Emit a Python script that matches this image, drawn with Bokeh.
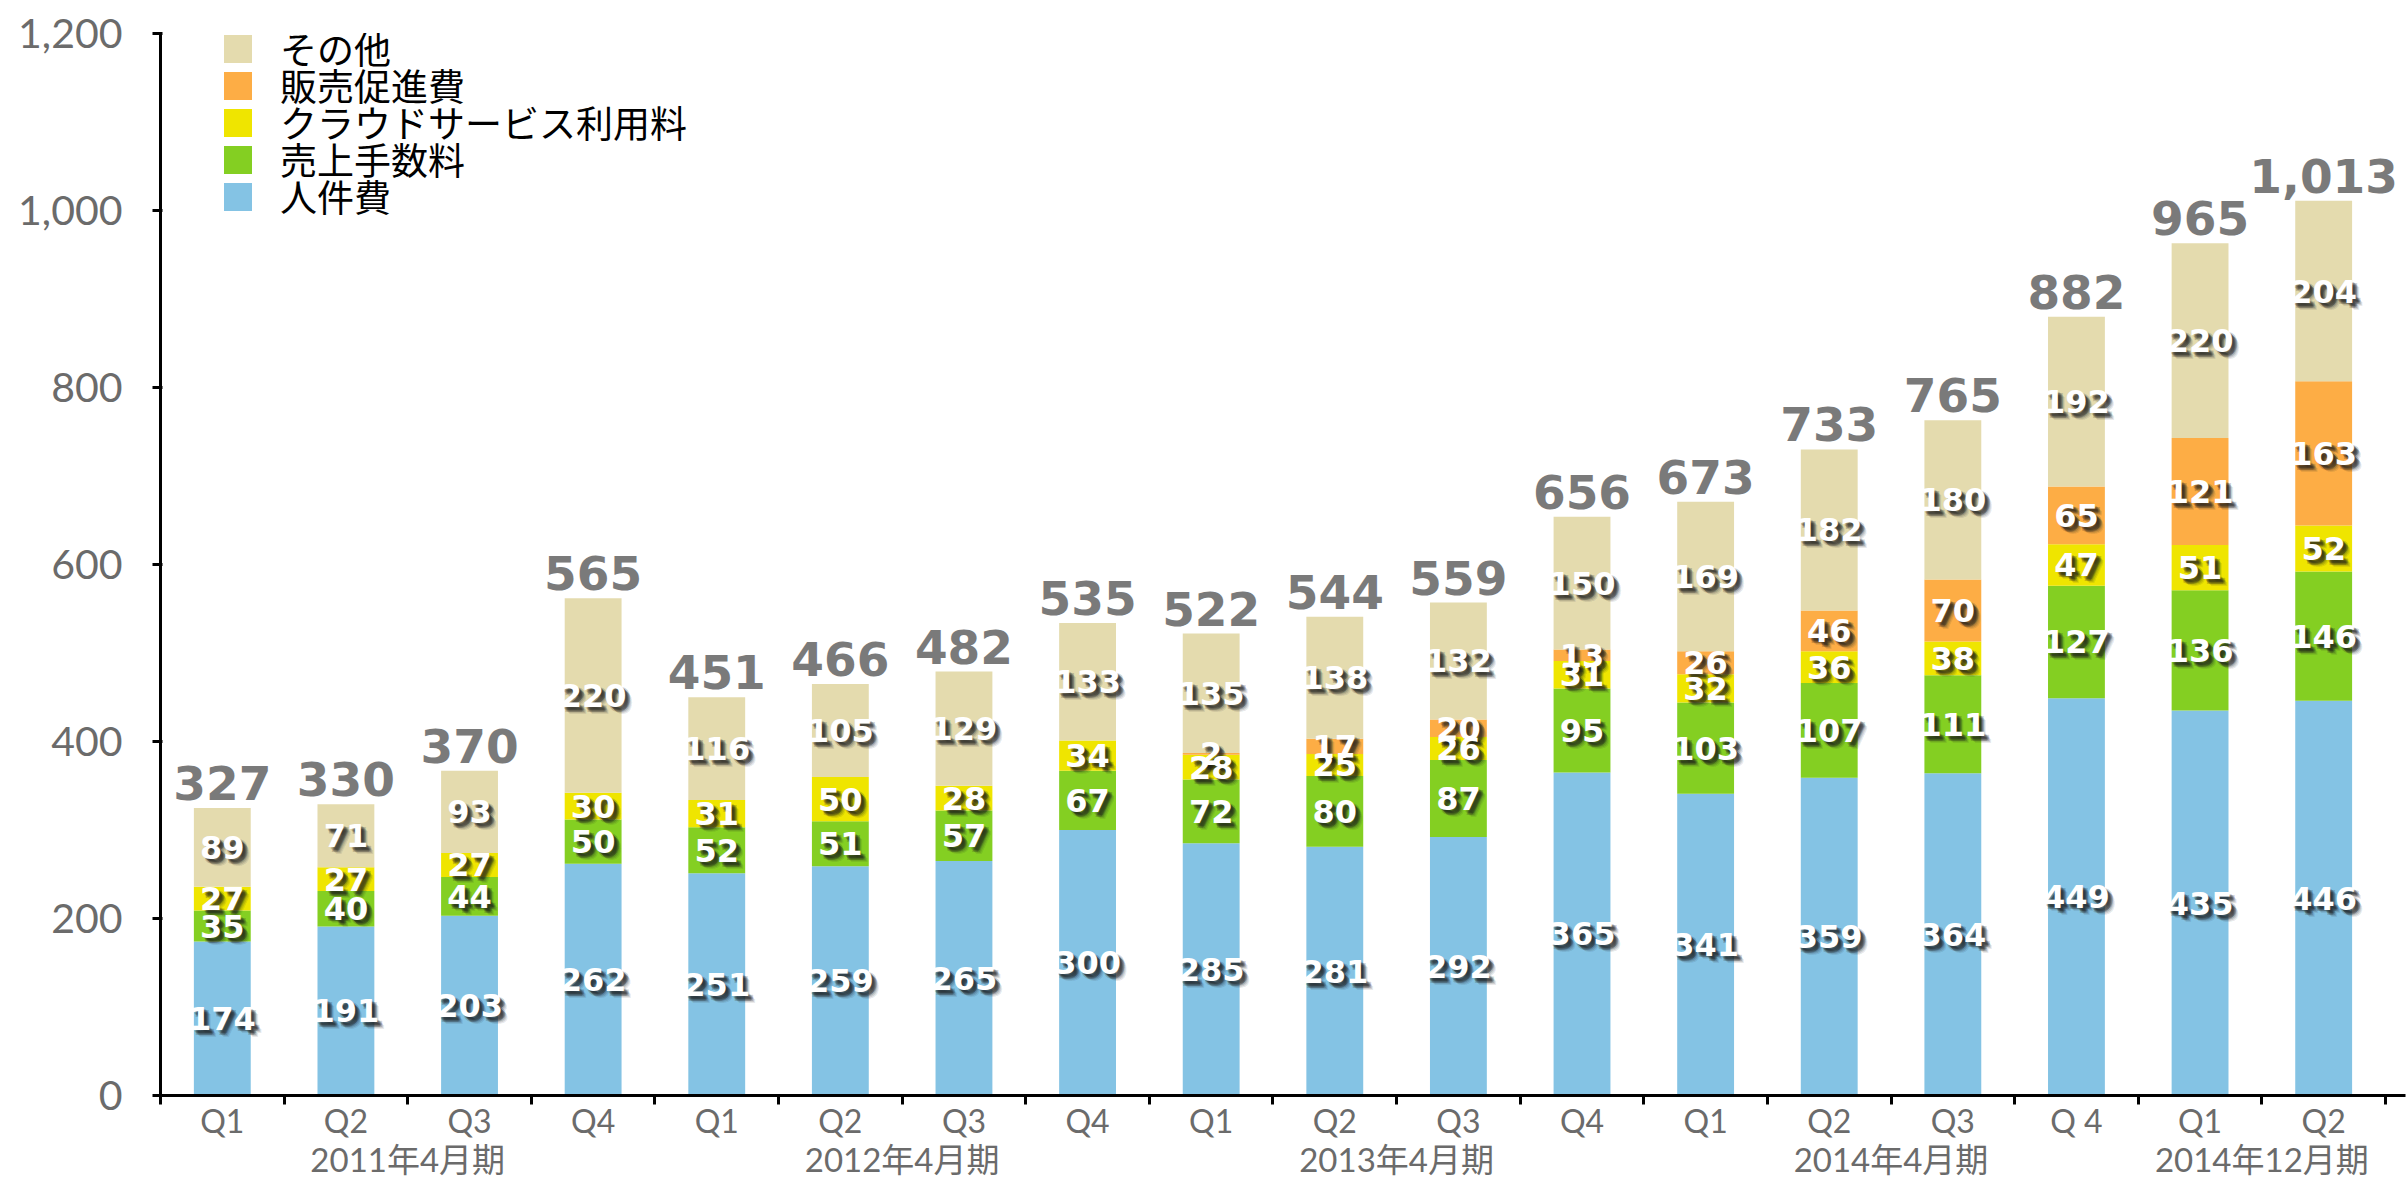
from bokeh.plotting import figure
from bokeh.models import (ColumnDataSource, FixedTicker, NumeralTickFormatter,
                          Legend, LegendItem, Range1d, LinearAxis)
from bokeh.core.properties import value
from bokeh.embed import file_html
from bokeh.resources import INLINE

# ---------------- data ----------------
quarters = ["Q1", "Q2", "Q3", "Q4", "Q1", "Q2", "Q3", "Q4", "Q1", "Q2", "Q3", "Q4",
            "Q1", "Q2", "Q3", "Q 4", "Q1", "Q2"]
periods = ["2011年4月期", "2012年4月期", "2013年4月期", "2014年4月期", "2014年12月期"]
period_sizes = [4, 4, 4, 4, 2]

personnel = [174, 191, 203, 262, 251, 259, 265, 300, 285, 281, 292, 365, 341, 359, 364, 449, 435, 446]
commission = [35, 40, 44, 50, 52, 51, 57, 67, 72, 80, 87, 95, 103, 107, 111, 127, 136, 146]
cloud = [27, 27, 27, 30, 31, 50, 28, 34, 28, 25, 26, 31, 32, 36, 38, 47, 51, 52]
promo = [0, 0, 0, 0, 0, 0, 0, 0, 2, 17, 20, 13, 26, 46, 70, 65, 121, 163]
other = [89, 71, 93, 220, 116, 105, 129, 133, 135, 138, 132, 150, 169, 182, 180, 192, 220, 204]
totals = [327, 330, 370, 565, 451, 466, 482, 535, 522, 544, 559, 656, 673, 733, 765, 882, 965, 1013]

series_names = ["人件費", "売上手数料", "クラウドサービス利用料", "販売促進費", "その他"]
series_keys = ["personnel", "commission", "cloud", "promo", "other"]
series_values = [personnel, commission, cloud, promo, other]
colors = ["#84C3E4", "#84CF22", "#EFE500", "#FDAD45", "#E4DBAE"]

y_ticks = [0, 200, 400, 600, 800, 1000, 1200]

# ---------------- figure ----------------
n = len(quarters)
xs = list(range(n))

W, H = 2407, 1182
TOP, LEFT, RIGHT, BOTTOM = 33, 160, 2, 87
EXTRA_RIGHT = 0.162   # room for the last total label, in bar slots
p = figure(width=W, height=H, output_backend="svg", toolbar_location=None,
           x_range=Range1d(-0.5, n - 0.5 + EXTRA_RIGHT), y_range=Range1d(0, 1200),
           min_border_left=LEFT, min_border_right=RIGHT, min_border_top=TOP,
           min_border_bottom=BOTTOM, outline_line_color=None)
p.xgrid.visible = False
p.ygrid.visible = False
p.background_fill_color = "white"

data = {"x": xs}
for k, v in zip(series_keys, series_values):
    data[k] = v
src = ColumnDataSource(data)

rends = p.vbar_stack(series_keys, x="x", width=0.46, source=src,
                     fill_color=colors, line_color=None)

# segment labels
lx, ly, lt = [], [], []
bottoms = [0] * n
for vals in series_values:
    for i, v in enumerate(vals):
        if v > 0:
            lx.append(i)
            ly.append(bottoms[i] + v / 2)
            lt.append(str(v))
        bottoms[i] += v
lab_src = ColumnDataSource(dict(x=lx, y=ly, t=lt))

SEG_FONT = value("DejaVu Sans")
for dx, dy, a in [(7, 7, 0.10), (6, 6, 0.14), (5, 5, 0.2), (4, 4, 0.25), (3, 5, 0.2), (5, 3, 0.2), (3, 3, 0.25), (2, 2, 0.2)]:
    p.text(x="x", y="y", text="t", source=lab_src, x_offset=dx, y_offset=dy,
           text_font=SEG_FONT, text_font_style="bold", text_font_size="32px",
           text_color="#1a1a1a", text_alpha=a, text_align="center", text_baseline="middle")
p.text(x="x", y="y", text="t", source=lab_src,
       text_font=SEG_FONT, text_font_style="bold", text_font_size="32px",
       text_color="white", text_align="center", text_baseline="middle")

# totals above bars
tot_src = ColumnDataSource(dict(x=xs, y=[sum(s[i] for s in series_values) for i in xs],
                                t=[f"{v:,}" for v in totals]))
p.text(x="x", y="y", text="t", source=tot_src, y_offset=-8,
       text_font=value("DejaVu Sans"), text_font_style="bold", text_font_size="47px",
       text_color="#7a7a7a", text_align="center", text_baseline="bottom")

# ---------------- axes ----------------
ya = p.yaxis[0]
ya.ticker = FixedTicker(ticks=y_ticks)
ya.formatter = NumeralTickFormatter(format="0,0")
ya.axis_line_color = "black"
ya.axis_line_width = 3
ya.major_tick_line_color = "black"
ya.major_tick_line_width = 3
ya.major_tick_in = 2
ya.major_tick_out = 8
ya.minor_tick_line_color = None
ya.major_label_text_font = "Lato"
ya.major_label_text_font_size = "41px"
ya.major_label_text_color = "#6b6b6b"
ya.major_label_standoff = 30

xa = p.xaxis[0]
xa.ticker = FixedTicker(ticks=xs, minor_ticks=[i - 0.5 for i in range(n + 1)])
xa.major_label_overrides = {i: q for i, q in enumerate(quarters)}
xa.axis_line_color = "black"
xa.axis_line_width = 3
xa.major_tick_line_color = None
xa.major_tick_in = 0
xa.major_tick_out = 0
xa.minor_tick_line_color = "black"
xa.minor_tick_line_width = 3
xa.minor_tick_in = 1
xa.minor_tick_out = 9
xa.major_label_text_font = "Lato"
xa.major_label_text_font_size = "32px"
xa.major_label_text_color = "#6b6b6b"
xa.major_label_standoff = -4

# period labels: second axis below the quarter labels
centers = []
start = 0
for s in period_sizes:
    centers.append(start + (s - 1) / 2)
    start += s
pa = LinearAxis(ticker=FixedTicker(ticks=centers),
                major_label_overrides={c: t for c, t in zip(centers, periods)})
pa.axis_line_color = None
pa.major_tick_line_color = None
pa.minor_tick_line_color = None
pa.major_tick_in = 0
pa.major_tick_out = 0
pa.minor_tick_in = 0
pa.minor_tick_out = 0
pa.major_label_standoff = -4
pa.major_label_text_font = "Lato, Noto Sans CJK JP"
pa.major_label_text_font_size = "33px"
pa.major_label_text_color = "#6b6b6b"
p.add_layout(pa, "below")

# ---------------- legend (one block per entry, top to bottom) ----------------
LEG_TOP_CENTER, LEG_PITCH, LEG_HALF_ROW = 52, 37.0, 23
frame_h = H - TOP - BOTTOM
for k, (name, r) in enumerate(reversed(list(zip(series_names, rends)))):
    cy = LEG_TOP_CENTER + k * LEG_PITCH          # from top of canvas
    ybot = (TOP + frame_h) - cy - LEG_HALF_ROW  # from frame bottom
    lg = Legend(items=[LegendItem(label=name, renderers=[r])],
                location=(60, ybot), orientation="vertical",
                glyph_width=35, glyph_height=35, spacing=0, padding=0, margin=0,
                label_text_font="Lato, Noto Sans CJK JP", label_text_font_size="37px",
                label_text_color="black", label_standoff=25, label_height=35,
                border_line_color=None, background_fill_alpha=0)
    p.add_layout(lg)

open("out.html", "w").write(file_html(p, INLINE))
